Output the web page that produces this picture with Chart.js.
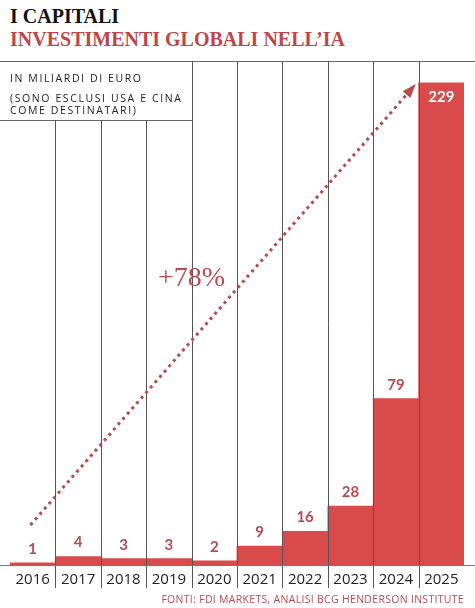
<!DOCTYPE html>
<html><head><meta charset="utf-8">
<script src="https://cdn.jsdelivr.net/npm/chart.js@4"></script>
<style>
body{margin:0;background:#fff;}
#wrap{position:relative;width:475px;height:608px;}
h1{position:absolute;margin:0;left:10px;font-family:"Liberation Serif",serif;font-weight:bold;}
</style></head><body>
<div id="wrap">
<h1 style="top:5px;font-size:20px;color:#111;">I CAPITALI</h1>
<h1 style="top:28px;font-size:20px;color:#c0454a;">INVESTIMENTI GLOBALI NELL’IA</h1>
<canvas id="chart" width="475" height="608" style="position:absolute;left:0;top:0;"></canvas>
</div>
<script>
const years = ['2016','2017','2018','2019','2020','2021','2022','2023','2024','2025'];
const investments = [1, 4, 3, 3, 2, 9, 16, 28, 79, 229];
const subtitleLines = ['IN MILIARDI DI EURO', '(SONO ESCLUSI USA E CINA', 'COME DESTINATARI)'];
const sourceText = 'FONTI: FDI MARKETS, ANALISI BCG HENDERSON INSTITUTE';
const trendLabel = '+78%';

const red = '#d94a4a';
const labelRed = '#b84a4e';

const decorPlugin = {
    id: 'decor',
    beforeDatasetsDraw(chart) {
        const ctx = chart.ctx;
        ctx.save();
        ctx.strokeStyle = '#666';
        ctx.lineWidth = 1;
        // top rule and subtitle box
        ctx.beginPath();
        ctx.moveTo(0, 61.5); ctx.lineTo(475, 61.5);
        ctx.moveTo(0, 120.5); ctx.lineTo(192, 120.5);
        ctx.stroke();
        ctx.restore();
    },
    afterDatasetsDraw(chart) {
        const ctx = chart.ctx, a = chart.chartArea;
        const x = chart.scales.x, y = chart.scales.y;
        const half = (x.getPixelForValue(1) - x.getPixelForValue(0)) / 2;
        ctx.save();
        // column separators
        ctx.strokeStyle = '#555';
        ctx.lineWidth = 1;
        for (let i = 1; i < years.length; i++) {
            const px = Math.round(x.getPixelForValue(i) - half) + 0.5;
            ctx.beginPath();
            ctx.moveTo(px, i < 4 ? 120 : 61);
            ctx.lineTo(px, 588);
            ctx.stroke();
        }
        // baseline
        ctx.strokeStyle = '#777';
        ctx.beginPath();
        ctx.moveTo(0, a.bottom + 0.5); ctx.lineTo(475, a.bottom + 0.5);
        ctx.stroke();

        // year labels
        ctx.fillStyle = '#222';
        ctx.font = '15px "Open Sans", sans-serif';
        ctx.textAlign = 'center';
        ctx.textBaseline = 'middle';
        years.forEach((yr, i) => ctx.fillText(yr, x.getPixelForValue(i), 580));

        // value labels
        ctx.font = 'bold 15px Lato, sans-serif';
        investments.forEach((v, i) => {
            const px = x.getPixelForValue(i), py = y.getPixelForValue(v);
            if (i === investments.length - 1) {
                ctx.fillStyle = '#fff';
                ctx.fillText(v, px, py + 14);
            } else {
                ctx.fillStyle = labelRed;
                ctx.fillText(v, px, py - 14);
            }
        });

        // subtitle
        ctx.fillStyle = '#222';
        ctx.font = '10.5px "Open Sans", sans-serif';
        ctx.textAlign = 'left';
        ctx.letterSpacing = '1.6px';
        ctx.fillText(subtitleLines[0], 10, 79);
        ctx.fillText(subtitleLines[1], 10, 99);
        ctx.fillText(subtitleLines[2], 10, 111);

        // source
        ctx.fillStyle = labelRed;
        ctx.font = '10.5px "Open Sans", sans-serif';
        ctx.letterSpacing = '0.3px';
        ctx.textAlign = 'right';
        ctx.fillText(sourceText, 464, 600);
        ctx.letterSpacing = '0px';

        // dotted trend arrow
        const x0 = x.getPixelForValue(-0.05), y0 = y.getPixelForValue(19);
        const x1 = x.getPixelForValue(8.38), y1 = y.getPixelForValue(227);
        ctx.strokeStyle = labelRed;
        ctx.lineWidth = 3;
        ctx.setLineDash([3, 4]);
        ctx.beginPath();
        ctx.moveTo(x0, y0); ctx.lineTo(x1, y1);
        ctx.stroke();
        ctx.setLineDash([]);
        const ang = Math.atan2(y1 - y0, x1 - x0);
        ctx.fillStyle = labelRed;
        ctx.beginPath();
        ctx.moveTo(x1 + 4 * Math.cos(ang), y1 + 4 * Math.sin(ang));
        ctx.lineTo(x1 - 10 * Math.cos(ang) + 5 * Math.sin(ang), y1 - 10 * Math.sin(ang) - 5 * Math.cos(ang));
        ctx.lineTo(x1 - 10 * Math.cos(ang) - 5 * Math.sin(ang), y1 - 10 * Math.sin(ang) + 5 * Math.cos(ang));
        ctx.closePath();
        ctx.fill();

        // trend label
        ctx.font = '28px "Liberation Serif", serif';
        ctx.textAlign = 'center';
        ctx.fillText(trendLabel, x.getPixelForValue(3.5), 279);
        ctx.restore();
    }
};

new Chart(document.getElementById('chart'), {
    type: 'bar',
    data: {
        labels: years,
        datasets: [{
            data: investments,
            backgroundColor: red,
            barPercentage: 1,
            categoryPercentage: 1,
            borderWidth: 0
        }]
    },
    options: {
        responsive: false,
        animation: false,
        layout: { padding: { left: 10, right: 11, top: 61, bottom: 43 } },
        plugins: { legend: { display: false }, tooltip: { enabled: false } },
        scales: {
            x: { display: false },
            y: { display: false, min: 0, max: 239.4 }
        }
    },
    plugins: [decorPlugin]
});
</script>
</body></html>
